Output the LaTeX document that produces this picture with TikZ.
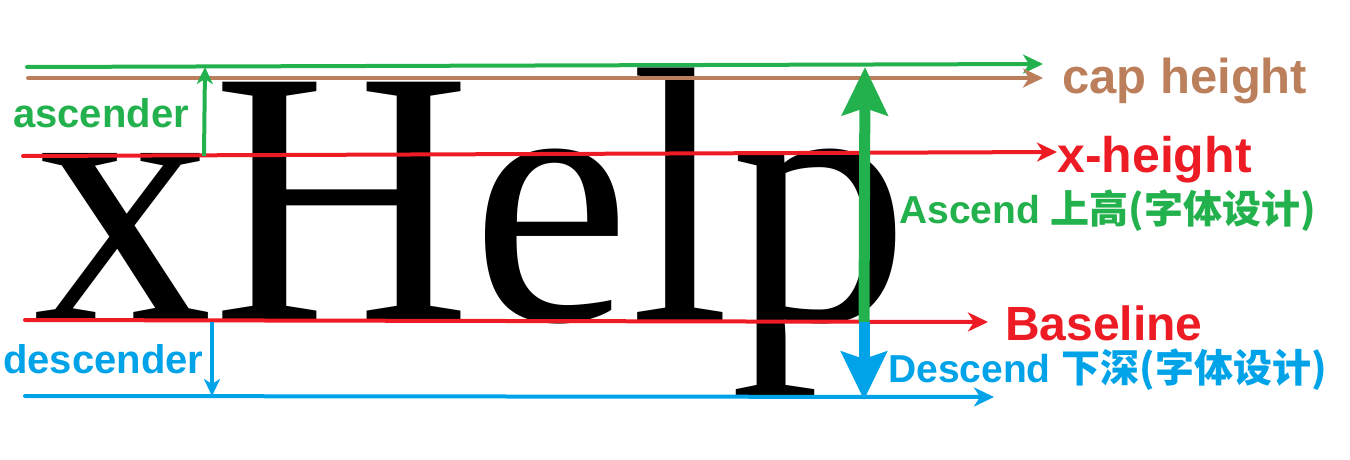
\documentclass[tikz,border=0pt]{standalone}
\usepackage{fontspec}
\setmainfont{Liberation Sans}
\newfontfamily\wordfont{Liberation Serif}
\newfontfamily\cjk{Noto Sans CJK SC}
\usetikzlibrary{arrows.meta}
\definecolor{ascgreen}{RGB}{34,177,76}
\definecolor{capbrown}{RGB}{187,127,91}
\definecolor{linered}{RGB}{237,28,36}
\definecolor{descblue}{RGB}{0,162,232}

\begin{document}
\begin{tikzpicture}[x=1pt, y=-1pt,
    lbl/.style={anchor=base west, inner sep=0pt, font=\bfseries\fontsize{#1}{#1}\selectfont},
    guide/.style={line width=4pt, line cap=round, -{Stealth[length=20pt,width=19pt,inset=6pt]}},
    tick/.style={line width=4pt, -{Stealth[length=17pt,width=16pt,inset=5pt]}},
    metric/.style={line width=11pt, -{Stealth[length=48pt,width=45pt,inset=7pt]}}]
    \useasboundingbox (0,0) rectangle (1350,460);
    % Word
    \node[anchor=base west, inner sep=0pt, xscale=0.985, font=\wordfont\fontsize{364}{364}\selectfont] (word) at (33,320) {xHelp};
    % Guide lines
    \coordinate (asc-l) at (27,67);   \coordinate (asc-r) at (1043,64);
    \coordinate (cap-l) at (28,78);   \coordinate (cap-r) at (1043,78);
    \coordinate (xh-l) at (23,156);   \coordinate (xh-r) at (1057,152);
    \coordinate (base-l) at (25,320); \coordinate (base-r) at (988,322);
    \coordinate (desc-l) at (25,396); \coordinate (desc-r) at (994,397);
    \draw[guide, ascgreen] (asc-l) -- (asc-r);
    \draw[guide, capbrown] (cap-l) -- (cap-r);
    \draw[guide, linered] (xh-l) -- (xh-r);
    \draw[guide, linered] (base-l) -- (base-r);
    \draw[guide, descblue] (desc-l) -- (desc-r);
    % Small arrows
    \coordinate (asc-bot) at (204,156); \coordinate (asc-top) at (205,67);
    \coordinate (desc-top) at (212,322); \coordinate (desc-bot) at (212,396);
    \draw[tick, ascgreen] (asc-bot) -- (asc-top);
    \draw[tick, descblue] (desc-top) -- (desc-bot);
    % Font metric arrows
    \coordinate (em-mid) at (864,322); \coordinate (em-top) at (865,67); \coordinate (em-bot) at (864,400);
    \draw[metric, ascgreen] (em-mid) -- (em-top);
    \draw[metric, descblue] (em-mid) -- (em-bot);
    % Labels
    \node[lbl=40, ascgreen] (ascender) at (13,128) {ascender};
    \node[lbl=40, descblue] (descender) at (3,373) {descender};
    \node[lbl=49, capbrown] (capheight) at (1062,94) {cap height};
    \node[lbl=50, linered] (xheight) at (1057,172) {x-height};
    \node[lbl=39, ascgreen] (ascend) at (899,223) {Ascend {\cjk 上高(字体设计)}};
    \node[lbl=48, linered] (baseline) at (1005,340) {Baseline};
    \node[lbl=39, descblue] (descend) at (888,382) {Descend {\cjk 下深(字体设计)}};
\end{tikzpicture}
\end{document}
